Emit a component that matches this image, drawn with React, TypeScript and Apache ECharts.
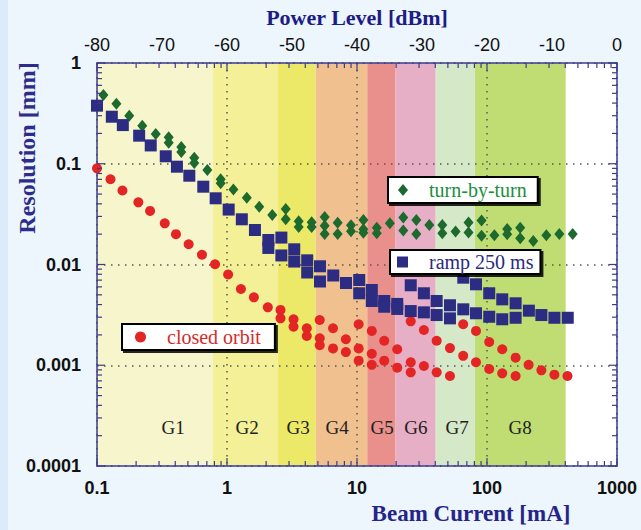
import React, { useEffect, useRef } from 'react';
import * as echarts from 'echarts';

// ---- data ----
const turnByTurnCurrent = [0.112, 0.141, 0.177, 0.223, 0.283, 0.356, 0.356, 0.445, 0.445, 0.56, 0.56, 0.706, 0.894, 0.894, 1.12, 1.42, 1.77, 2.23, 2.83, 2.83, 3.56, 3.56, 4.48, 4.48, 5.64, 5.64, 5.64, 7.1, 7.1, 8.99, 8.99, 11.2, 11.2, 11.2, 14.2, 14.2, 17.9, 22.7, 22.7, 28.6, 28.6, 36.0, 45.3, 45.3, 57.3, 72.1, 72.1, 90.8, 90.8, 114, 143, 143, 180, 180, 227, 286, 360, 456];
const turnByTurnResolution = [0.481, 0.394, 0.3, 0.239, 0.197, 0.183, 0.162, 0.147, 0.131, 0.115, 0.102, 0.0867, 0.0701, 0.064, 0.0555, 0.046, 0.0375, 0.031, 0.0356, 0.0281, 0.0268, 0.0236, 0.0262, 0.0235, 0.0296, 0.0243, 0.0201, 0.026, 0.0201, 0.0245, 0.0214, 0.0277, 0.0224, 0.0207, 0.0232, 0.0204, 0.0256, 0.0293, 0.0218, 0.0277, 0.0201, 0.0247, 0.0247, 0.0204, 0.0212, 0.0261, 0.0208, 0.0273, 0.0193, 0.0195, 0.0225, 0.02, 0.0232, 0.0182, 0.0171, 0.0195, 0.0201, 0.0201];

const rampCurrent = [0.1, 0.13, 0.158, 0.211, 0.259, 0.338, 0.412, 0.513, 0.657, 0.818, 1.03, 1.3, 1.64, 2.08, 2.08, 2.62, 2.62, 3.29, 3.29, 4.14, 4.14, 5.19, 5.19, 6.57, 8.23, 10.4, 10.4, 13.0, 13.0, 16.2, 16.2, 20.4, 20.4, 25.9, 25.9, 32.7, 32.7, 41.0, 41.0, 51.9, 51.9, 65.7, 65.7, 82.3, 82.3, 104, 104, 131, 131, 166, 166, 210, 262, 330, 418];
const rampResolution = [0.377, 0.293, 0.242, 0.19, 0.152, 0.1186, 0.0935, 0.0761, 0.0592, 0.0454, 0.0351, 0.0281, 0.022, 0.0175, 0.0146, 0.0185, 0.0123, 0.01415, 0.0107, 0.011, 0.00833, 0.0096, 0.00678, 0.00778, 0.00655, 0.00702, 0.00518, 0.00558, 0.00434, 0.00434, 0.00381, 0.00406, 0.00362, 0.00622, 0.00345, 0.00518, 0.00335, 0.00434, 0.00315, 0.00394, 0.00292, 0.0074, 0.00359, 0.00636, 0.00328, 0.00518, 0.00303, 0.00451, 0.00286, 0.00412, 0.00296, 0.00348, 0.00315, 0.00296, 0.00296];

const closedOrbitCurrent = [0.1, 0.127, 0.157, 0.208, 0.256, 0.332, 0.405, 0.507, 0.642, 0.809, 1.02, 1.28, 1.61, 2.06, 2.58, 2.58, 3.25, 3.25, 4.11, 4.11, 5.17, 5.17, 5.17, 6.54, 6.54, 8.21, 8.21, 10.3, 10.3, 10.3, 13.0, 13.0, 13.0, 16.2, 16.2, 20.4, 20.4, 25.9, 25.9, 25.9, 32.7, 32.7, 41.0, 41.0, 51.9, 51.9, 65.6, 65.6, 82.3, 82.3, 104, 104, 131, 131, 166, 166, 209, 262, 330, 416];
const closedOrbitResolution = [0.0901, 0.0701, 0.0543, 0.0414, 0.034, 0.0256, 0.02, 0.0159, 0.0125, 0.01005, 0.00796, 0.00571, 0.00472, 0.00376, 0.00354, 0.00292, 0.00286, 0.00241, 0.00233, 0.00195, 0.00281, 0.00185, 0.00158, 0.00233, 0.00147, 0.00181, 0.00135, 0.00255, 0.00147, 0.00111, 0.00219, 0.0013, 0.00101, 0.00175, 0.00111, 0.00144, 0.000946, 0.00273, 0.00107, 0.000851, 0.00224, 0.000983, 0.00175, 0.000851, 0.00148, 0.000782, 0.00255, 0.00124, 0.00219, 0.00107, 0.0017, 0.000918, 0.00144, 0.000832, 0.00119, 0.000782, 0.00101, 0.000891, 0.000806, 0.000782];

const gapNames = ['G1', 'G2', 'G3', 'G4', 'G5', 'G6', 'G7', 'G8'];
const gapStart = [0.1, 0.78, 2.47, 4.81, 12.0, 19.8, 40.3, 80.9];
const gapEnd = [0.78, 2.47, 4.81, 12.0, 19.8, 40.3, 80.9, 403];
const gapLabelCurrent = [0.385, 1.43, 3.52, 7.02, 15.6, 28.4, 58.8, 179.5];
const gapLabelResolution = [0.00024, 0.00024, 0.00024, 0.00024, 0.00024, 0.00024, 0.00024, 0.00024];

const decadeCurrents = [0.1, 1, 10, 100, 1000];
const decadeResolutions = [0.0001, 0.001, 0.01, 0.1, 1];
const minorSteps = [2, 3, 4, 5, 6, 7, 8, 9];

const powerMin = -80;
const powerMax = 0;
const powerStep = 10;

// ---- styles ----
const gapColors = ['#f7f5cb', '#f4f097', '#ede968', '#f0c08e', '#ea908c', '#e7afc5', '#d5e8c8', '#bfdd72'];
const axisColor = '#3b3b8e';
const sans = '"Liberation Sans", Arial, sans-serif';
const serif = '"Liberation Serif", "Times New Roman", serif';

const zip = (xs: number[], ys: number[]) => xs.map((x, i) => [x, ys[i]]);
const fmt = (v: number) => String(parseFloat(Number(v).toPrecision(6)));

function buildTicks(decades: number[]) {
  const out: number[][] = [];
  decades.forEach((d, i) => {
    out.push([d, 1]);
    if (i < decades.length - 1) minorSteps.forEach((s) => out.push([d * s, 0]));
  });
  return out;
}

export default function App() {
  const ref = useRef<HTMLDivElement>(null);
  useEffect(() => {
    document.body.style.margin = '0';
    const chart = echarts.init(ref.current!, null, { renderer: 'svg' });
    const yMin = decadeResolutions[0];
    const yMax = decadeResolutions[decadeResolutions.length - 1];
    const xMin = decadeCurrents[0];
    const xMax = decadeCurrents[decadeCurrents.length - 1];

    const xTickData = buildTicks(decadeCurrents).map((t) => [t[0], 0.01, t[1]]);
    const yTickData = buildTicks(decadeResolutions).map((t) => [1, t[0], t[1]]);

    const legendBase = {
      orient: 'horizontal',
      selectedMode: false,
      backgroundColor: '#ffffff',
      borderColor: '#000000',
      borderWidth: 2,
      shadowColor: 'rgba(0,0,0,0.85)',
      shadowOffsetX: 2,
      shadowOffsetY: 2,
      shadowBlur: 1,
      z: 6,
    };

    const option: any = {
      animation: false,
      backgroundColor: '#edf5fd',
      grid: { left: 97, right: 24, top: 63, bottom: 64, show: true, backgroundColor: '#ffffff', borderWidth: 0, z: 0 },
      xAxis: [
        {
          type: 'log', logBase: 10, min: xMin, max: xMax, position: 'bottom', z: 2,
          axisLine: { show: true, onZero: false, lineStyle: { color: axisColor, width: 1.5 } },
          axisTick: { show: false },
          axisLabel: { fontFamily: sans, fontWeight: 'bold', fontSize: 18, color: '#111', margin: 13, formatter: fmt },
          splitLine: { show: true, lineStyle: { color: '#555', width: 1.5, type: [1.5, 5.5] } },
        },
        {
          type: 'value', min: powerMin, max: powerMax, interval: powerStep, position: 'top', z: 2,
          axisLine: { show: true, onZero: false, lineStyle: { color: axisColor, width: 1.5 } },
          axisTick: { show: false },
          axisLabel: { fontFamily: sans, fontSize: 18, color: '#111', margin: 9 },
          splitLine: { show: false },
        },
      ],
      yAxis: [
        {
          type: 'log', logBase: 10, min: yMin, max: yMax, position: 'left', z: 2,
          axisLine: { show: true, onZero: false, lineStyle: { color: axisColor, width: 1.5 } },
          axisTick: { show: false },
          axisLabel: { fontFamily: sans, fontWeight: 'bold', fontSize: 18, color: '#111', margin: 16, formatter: fmt },
          splitLine: { show: true, lineStyle: { color: '#555', width: 1.5, type: [1.5, 5.5] } },
        },
        {
          type: 'log', logBase: 10, min: yMin, max: yMax, position: 'right', z: 2,
          axisLine: { show: true, onZero: false, lineStyle: { color: axisColor, width: 1.5 } },
          axisTick: { show: false },
          axisLabel: { show: false },
          splitLine: { show: false },
        },
      ],
      legend: [
        {
          ...legendBase, data: ['turn-by-turn'], left: 388, top: 177, padding: [3, 11, 3, 10],
          itemWidth: 10, itemHeight: 12,
          textStyle: { fontFamily: serif, fontSize: 20, color: '#1a8f3c', lineHeight: 20, padding: [0, 0, 0, 16] },
        },
        {
          ...legendBase, data: ['ramp 250 ms'], left: 390, top: 250, padding: [2, 7, 2, 7],
          itemWidth: 11, itemHeight: 11,
          textStyle: { fontFamily: serif, fontSize: 20, color: '#2a2a80', lineHeight: 20, padding: [0, 0, 0, 16] },
        },
        {
          ...legendBase, data: ['closed orbit'], left: 122, top: 324, padding: [3, 14, 3, 13],
          itemWidth: 11, itemHeight: 11,
          textStyle: { fontFamily: serif, fontSize: 20, color: '#d62a2a', lineHeight: 20, padding: [0, 0, 0, 16] },
        },
      ],
      graphic: [
        { type: 'rect', left: 0, top: 0, shape: { width: 8, height: 530 }, style: { fill: '#dcebfa' }, silent: true },
        {
          type: 'text', x: 357, y: 17, silent: true,
          style: { text: 'Power Level [dBm]', fill: '#1c1c86', font: `bold 22px ${serif}`, align: 'center', verticalAlign: 'middle' },
        },
        {
          type: 'text', x: 471, y: 513, silent: true,
          style: { text: 'Beam Current [mA]', fill: '#24248a', font: `bold 23px ${serif}`, align: 'center', verticalAlign: 'middle' },
        },
        {
          type: 'text', x: 27, y: 148, rotation: Math.PI / 2, silent: true,
          style: { text: 'Resolution [mm]', fill: '#2c2c8a', font: `bold 24px ${serif}`, align: 'center', verticalAlign: 'middle' },
        },
      ],
      series: [
        {
          type: 'custom', name: 'gaps', z: 1, clip: false, silent: true,
          xAxisIndex: 0, yAxisIndex: 0,
          encode: { x: [0, 1, 2], y: 3 },
          data: gapNames.map((_, i) => [gapStart[i], gapEnd[i], gapLabelCurrent[i], gapLabelResolution[i]]),
          renderItem: (params: any, api: any) => {
            const i = params.dataIndex;
            const p1 = api.coord([api.value(0), yMax]);
            const p2 = api.coord([api.value(1), yMin]);
            const lp = api.coord([api.value(2), api.value(3)]);
            return {
              type: 'group',
              children: [
                { type: 'rect', shape: { x: p1[0], y: p1[1], width: p2[0] - p1[0], height: p2[1] - p1[1] }, style: { fill: gapColors[i] } },
                { type: 'text', x: lp[0], y: lp[1], style: { text: gapNames[i], fill: '#222', font: `19px ${serif}`, align: 'center', verticalAlign: 'middle' } },
              ],
            };
          },
        },
        {
          type: 'scatter', name: 'turn-by-turn', z: 3, xAxisIndex: 0, yAxisIndex: 0,
          symbol: 'diamond', symbolSize: [10, 12], itemStyle: { color: '#1c6a2e', opacity: 1 },
          emphasis: { disabled: true }, silent: true,
          data: zip(turnByTurnCurrent, turnByTurnResolution),
        },
        {
          type: 'scatter', name: 'closed orbit', z: 3, xAxisIndex: 0, yAxisIndex: 0,
          symbol: 'circle', symbolSize: 10, itemStyle: { color: '#e42525', opacity: 1 },
          emphasis: { disabled: true }, silent: true,
          data: zip(closedOrbitCurrent, closedOrbitResolution),
        },
        {
          type: 'scatter', name: 'ramp 250 ms', z: 3, xAxisIndex: 0, yAxisIndex: 0,
          symbol: 'rect', symbolSize: 12, itemStyle: { color: '#2b2c82', opacity: 1 },
          emphasis: { disabled: true }, silent: true,
          data: zip(rampCurrent, rampResolution),
        },
        {
          type: 'custom', name: 'xticks', z: 4, clip: false, silent: true,
          xAxisIndex: 0, yAxisIndex: 0, encode: { x: 0, y: 1 },
          data: xTickData,
          renderItem: (params: any, api: any) => {
            const v = api.value(0);
            const len = api.value(2) ? 8 : 5;
            const b = api.coord([v, yMin]);
            const t = api.coord([v, yMax]);
            const st = { stroke: axisColor, lineWidth: 1.2 };
            return {
              type: 'group',
              children: [
                { type: 'line', shape: { x1: b[0], y1: b[1], x2: b[0], y2: b[1] - len }, style: st },
                { type: 'line', shape: { x1: t[0], y1: t[1], x2: t[0], y2: t[1] + len }, style: st },
              ],
            };
          },
        },
        {
          type: 'custom', name: 'yticks', z: 4, clip: false, silent: true,
          xAxisIndex: 0, yAxisIndex: 0, encode: { x: 0, y: 1 },
          data: yTickData,
          renderItem: (params: any, api: any) => {
            const v = api.value(1);
            const len = api.value(2) ? 8 : 5;
            const l = api.coord([xMin, v]);
            const r = api.coord([xMax, v]);
            const st = { stroke: axisColor, lineWidth: 1.2 };
            return {
              type: 'group',
              children: [
                { type: 'line', shape: { x1: l[0], y1: l[1], x2: l[0] + len, y2: l[1] }, style: st },
                { type: 'line', shape: { x1: r[0], y1: r[1], x2: r[0] - len, y2: r[1] }, style: st },
              ],
            };
          },
        },
      ],
    };
    chart.setOption(option);
    return () => chart.dispose();
  }, []);
  return <div ref={ref} style={{ width: 641, height: 530 }} />;
}
